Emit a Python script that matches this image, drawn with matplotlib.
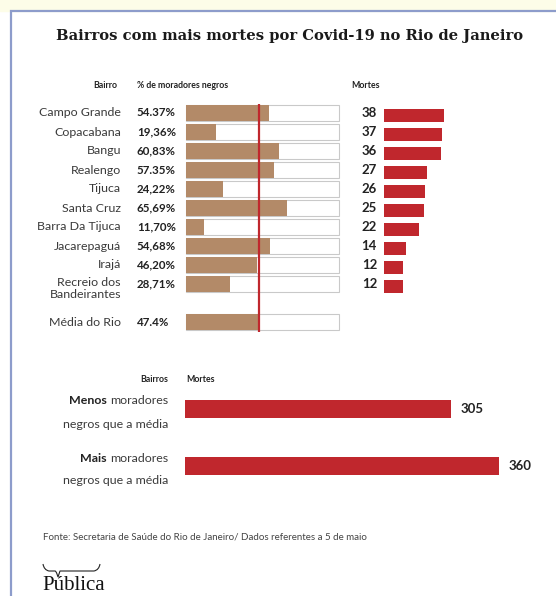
import matplotlib
matplotlib.use("Agg")
import matplotlib.pyplot as plt
from matplotlib.path import Path
from matplotlib.patches import PathPatch

# data
bairros = ["Campo Grande", "Copacabana", "Bangu", "Realengo", "Tijuca",
           "Santa Cruz", "Barra Da Tijuca", "Jacarepaguá", "Irajá",
           "Recreio dos\nBandeirantes"]
pct_negros = [54.37, 19.36, 60.83, 57.35, 24.22, 65.69, 11.70, 54.68, 46.20, 28.71]
pct_labels = ["54.37%", "19,36%", "60,83%", "57.35%", "24,22%", "65,69%",
              "11,70%", "54,68%", "46,20%", "28,71%"]
mortes = [38, 37, 36, 27, 26, 25, 22, 14, 12, 12]
media_rio = 47.4
media_label = "47.4%"
grupos_bold = ["Menos", "Mais"]
grupos_resto = ["moradores", "moradores"]
mortes_grupo = [305, 360]

W, H = 556, 596
TAN = "#b38a68"
RED = "#c0272d"
SANS = "Lato"

fig = plt.figure(figsize=(W / 100, H / 100), dpi=100)
fig.patch.set_facecolor("white")


def px_axes(x0, y0, x1, y1):
    return fig.add_axes([x0 / W, 1 - y1 / H, (x1 - x0) / W, (y1 - y0) / H])


# overlay for frame and text, in pixel coords
bg = px_axes(0, 0, W, H)
bg.set_xlim(0, W)
bg.set_ylim(H, 0)
bg.axis("off")
bg.axhspan(0, 11, color="#fdfde8", zorder=0)
bg.plot([11, 11, W], [H, 11, 11], color="#8d9ccb", lw=1.6, zorder=1,
        solid_joinstyle="miter")

bg.text(290, 36, "Bairros com mais mortes por Covid-19 no Rio de Janeiro",
        ha="center", va="center", fontsize=10.6, fontweight="bold",
        family="DejaVu Serif", color="#1a1a1a")

hdr = dict(fontsize=6.3, fontweight="bold", family=SANS, va="center", color="#222222")
bg.text(117, 85, "Bairro", ha="right", **hdr)
bg.text(137, 85, "% de moradores negros", ha="left", **hdr)
bg.text(351, 85, "Mortes", ha="left", **hdr)

# left panel: % de moradores negros
ys = list(range(len(bairros)))
y_media = 11
ax = px_axes(186, 103.5, 339, 331.5)
ax.set_xlim(0, 100)
ax.set_ylim(11.5, -0.5)
ax.axis("off")
bh = 0.82
ax.barh(ys + [y_media], [100] * (len(ys) + 1), height=bh, color="white",
        edgecolor="#c9c9c9", linewidth=0.8, clip_on=False)
ax.barh(ys, pct_negros, height=bh, color=TAN, clip_on=False)
ax.barh([y_media], [media_rio], height=bh, color=TAN, clip_on=False)
ax.axvline(media_rio, color=RED, lw=1.6, zorder=5)

lab = dict(fontsize=8.9, family=SANS, color="#3a3a3a")
for i, (b, p) in enumerate(zip(bairros, pct_labels)):
    if "\n" in b:
        ax.annotate(b, (0, i), xytext=(-46.8, 5.0), textcoords="offset points",
                    ha="right", va="top", linespacing=1.05, **lab)
    else:
        ax.annotate(b, (0, i), xytext=(-46.8, 0), textcoords="offset points",
                    ha="right", va="center", **lab)
    ax.annotate(p, (0, i), xytext=(-35.3, 0), textcoords="offset points",
                ha="left", va="center", fontsize=8.3, fontweight="bold",
                family=SANS, color="#222222")
ax.annotate("Média do Rio", (0, y_media), xytext=(-46.8, 0), textcoords="offset points",
            ha="right", va="center", **lab)
ax.annotate(media_label, (0, y_media), xytext=(-35.3, 0), textcoords="offset points",
            ha="left", va="center", fontsize=8.3, fontweight="bold",
            family=SANS, color="#222222")

# right panel: mortes
ax2 = px_axes(384, 103.5, 384 + 63.2, 331.5)
ax2.set_xlim(0, 40)
ax2.set_ylim(11.5, -0.5)
ax2.axis("off")
ax2.barh([y + 0.12 for y in ys], mortes, height=0.7, color=RED)
for i, m in enumerate(mortes):
    ax2.annotate(str(m), (0, i), xytext=(-5, 0), textcoords="offset points",
                 ha="right", va="center", fontsize=9.5, fontweight="bold",
                 family=SANS, color="#222222")

# bottom panel: grupos
bg.text(168, 380, "Bairros", ha="right", **hdr)
bg.text(186, 380, "Mortes", ha="left", **hdr)

ax3 = px_axes(185, 380.5, 185 + 349, 494.5)
ax3.set_xlim(0, 400)
ax3.set_ylim(1.5, -0.5)
ax3.axis("off")
ax3.barh([0, 1], mortes_grupo, height=0.3, color=RED)
for i, m in enumerate(mortes_grupo):
    ax3.annotate(str(m), (m, i), xytext=(6.5, 0), textcoords="offset points",
                 ha="left", va="center", fontsize=9.5, fontweight="bold",
                 family=SANS, color="#222222")

for i, (gb, gr) in enumerate(zip(grupos_bold, grupos_resto)):
    yc = 409 + 57 * i
    t = bg.text(168, yc - 8, gr, ha="right", va="center", **lab)
    bg.annotate(gb + " ", (0, 0.5), xycoords=t, ha="right", va="center",
                fontsize=8.9, fontweight="bold", family=SANS, color="#222222")
    bg.text(168, yc + 15, "negros que a média", ha="right", va="center", **lab)

# fonte
bg.text(43, 537, "Fonte: Secretaria de Saúde do Rio de Janeiro/ Dados referentes a 5 de maio",
        ha="left", va="center", fontsize=7.0, family=SANS, color="#444444")

# logo Pública
verts = [(43, 564), (44, 570), (49, 571), (55, 571),
         (56, 571), (57, 574), (58, 577),
         (59, 574), (60, 571), (62, 571),
         (94, 571), (99, 570), (100, 564)]
codes = [Path.MOVETO, Path.CURVE3, Path.CURVE3, Path.LINETO,
         Path.CURVE3, Path.CURVE3, Path.LINETO,
         Path.CURVE3, Path.CURVE3, Path.LINETO,
         Path.LINETO, Path.CURVE3, Path.CURVE3]
bg.add_patch(PathPatch(Path(verts, codes), fill=False, lw=0.8, color="#222222"))
bg.text(42, 586, "Pública", ha="left", va="center", fontsize=15,
        family="Liberation Serif", color="#111111")

fig.savefig("out.png", dpi=100)
